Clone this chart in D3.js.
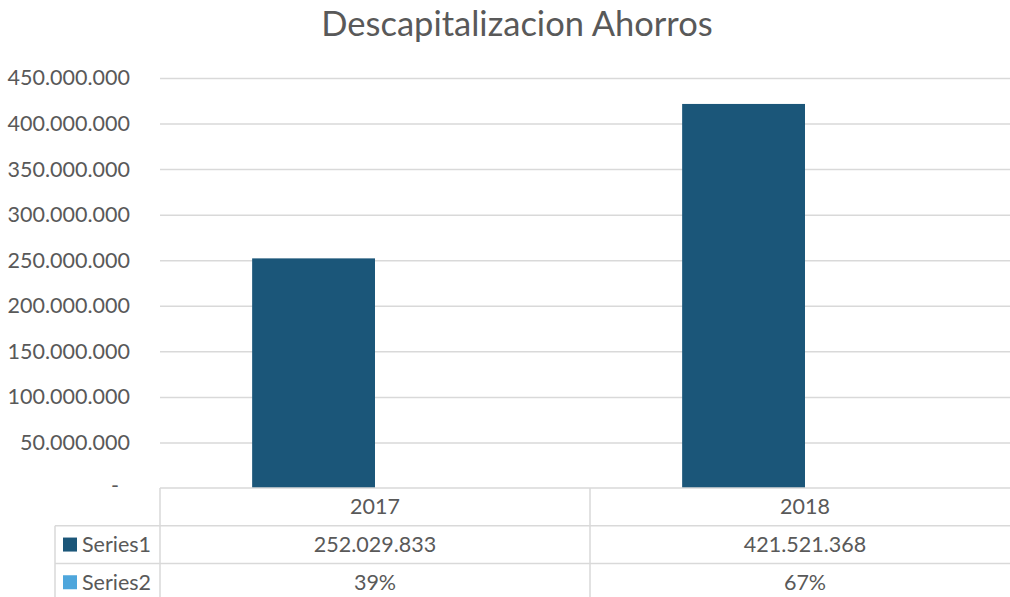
<!DOCTYPE html>
<html lang="es">
<head>
<meta charset="UTF-8">
<title>Descapitalizacion Ahorros</title>
<style>
  body { margin: 0; background: #fff; }
  svg text { font-family: Lato, "Open Sans", sans-serif; fill: #595959; }
</style>
</head>
<body>
<div id="chart"></div>
<script src="https://cdnjs.cloudflare.com/ajax/libs/d3/7.8.5/d3.min.js"></script>
<script>
// chart data
const categories = ["2017", "2018"];
const seriesNames = ["Series1", "Series2"];
const series1 = [252029833, 421521368];
const series2 = [0.39, 0.67];
const yTicks = [0, 50e6, 100e6, 150e6, 200e6, 250e6, 300e6, 350e6, 400e6, 450e6];

const W = 1010, H = 597;
const plotLeft = 160, plotRight = 1020, plotTop = 78, plotBottom = 488;
const rowH = 37.7;
const colors = { Series1: "#1b5679", Series2: "#4ea6dc" };
const gridColor = "#d9d9d9";

const locale = d3.formatLocale({ decimal: ",", thousands: ".", grouping: [3], currency: ["", ""] });
const fmtNum = locale.format(",.0f");
const fmtPct = d3.format(".0%");

const svg = d3.select("#chart").append("svg")
  .attr("width", W).attr("height", H);

svg.append("text")
  .attr("x", 517).attr("y", 36)
  .attr("text-anchor", "middle")
  .style("font-size", "34.5px")
  .text("Descapitalizacion Ahorros");

const x = d3.scaleBand().domain(categories).range([plotLeft, plotRight]).padding(0);
const xs = d3.scaleBand().domain(seriesNames).range([0, x.bandwidth()])
  .paddingInner(0).paddingOuter(0.75);
const y = d3.scaleLinear().domain([0, 450e6]).range([plotBottom, plotTop]);

// gridlines + y labels
const yAxis = svg.append("g")
  .attr("transform", `translate(${plotLeft},0)`)
  .call(d3.axisLeft(y).tickValues(yTicks)
    .tickSize(-(plotRight - plotLeft)).tickPadding(30)
    .tickFormat(d => d === 0 ? "-" : fmtNum(d)));
yAxis.select(".domain").remove();
yAxis.selectAll(".tick line")
  .attr("stroke", gridColor).attr("stroke-width", 1.5)
  .filter(d => d === 0).remove();
yAxis.selectAll(".tick text")
  .style("font-size", "21.5px").attr("fill", "#595959")
  .filter(d => d === 0).attr("dx", -11).attr("dy", "0.2em");

// bars
const rows = categories.map((c, i) => ({ cat: c, Series1: series1[i], Series2: series2[i] }));
svg.append("g").selectAll("g")
  .data(rows).join("g")
  .attr("transform", d => `translate(${x(d.cat)},0)`)
  .selectAll("rect")
  .data(d => seriesNames.map(s => ({ s, v: d[s] })))
  .join("rect")
  .attr("x", d => xs(d.s))
  .attr("width", xs.bandwidth())
  .attr("y", d => y(d.v))
  .attr("height", d => y(0) - y(d.v))
  .attr("fill", d => colors[d.s]);

// data table
const tbl = svg.append("g");
const legendLeft = 55;
const lineStyle = sel => sel.attr("stroke", gridColor).attr("stroke-width", 1.5);

tbl.append("line").attr("x1", plotLeft).attr("x2", plotRight)
  .attr("y1", plotBottom).attr("y2", plotBottom).call(lineStyle);
[1, 2, 3].forEach(r => {
  tbl.append("line").attr("x1", legendLeft).attr("x2", plotRight)
    .attr("y1", plotBottom + r * rowH).attr("y2", plotBottom + r * rowH).call(lineStyle);
});
tbl.append("line").attr("x1", legendLeft).attr("x2", legendLeft)
  .attr("y1", plotBottom + rowH).attr("y2", plotBottom + 4 * rowH).call(lineStyle);
categories.concat([null]).forEach(c => {
  const xx = c ? x(c) : plotRight;
  tbl.append("line").attr("x1", xx).attr("x2", xx)
    .attr("y1", plotBottom).attr("y2", plotBottom + 4 * rowH).call(lineStyle);
});

categories.forEach((c, i) => {
  const cx = x(c) + x.bandwidth() / 2;
  tbl.append("text").attr("x", cx).attr("y", plotBottom + rowH / 2)
    .attr("dy", "0.35em").attr("text-anchor", "middle")
    .style("font-size", "21.5px").text(c);
  tbl.append("text").attr("x", cx).attr("y", plotBottom + rowH * 1.5)
    .attr("dy", "0.35em").attr("text-anchor", "middle")
    .style("font-size", "21.5px").text(fmtNum(series1[i]));
  tbl.append("text").attr("x", cx).attr("y", plotBottom + rowH * 2.5)
    .attr("dy", "0.35em").attr("text-anchor", "middle")
    .style("font-size", "21.5px").text(fmtPct(series2[i]));
});

seriesNames.forEach((s, i) => {
  const cy = plotBottom + rowH * (1.5 + i);
  tbl.append("rect").attr("x", 63).attr("y", cy - 7)
    .attr("width", 14).attr("height", 14).attr("fill", colors[s]);
  tbl.append("text").attr("x", 82).attr("y", cy)
    .attr("dy", "0.35em").style("font-size", "21.5px").text(s);
});
</script>
</body>
</html>
